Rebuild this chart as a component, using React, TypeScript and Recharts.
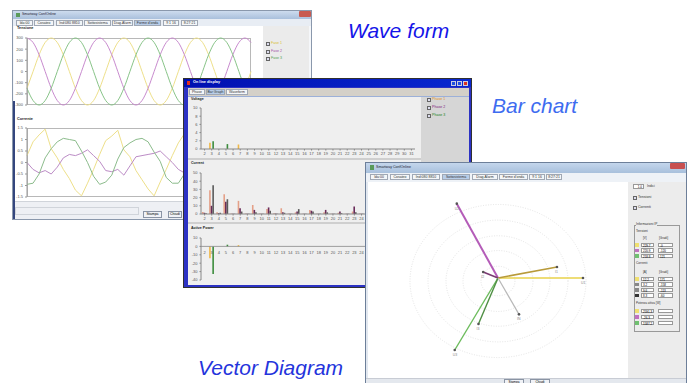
import React from "react";
import {
  LineChart,
  Line,
  XAxis,
  YAxis,
  BarChart,
  Bar,
  ScatterChart,
  Scatter,
  ReferenceDot,
  ReferenceLine,
} from "recharts";

const FONT = "'Liberation Sans', Arial, sans-serif";

// ---- waveform window data (sample index, 12 samples per period)
const samples = [
  0, 1, 2, 3, 4, 5, 6, 7, 8, 9, 10, 11, 12, 13, 14, 15, 16, 17, 18, 19, 20, 21, 22, 23, 24, 25, 26, 27, 28, 29,
  30, 31, 32, 33, 34, 35, 36, 37,
];
const voltFase1 = [
  -150, 0, 150, 260, 300, 260, 150, 0, -150, -260, -300, -260, -150, 0, 150, 260, 300, 260, 150, 0, -150, -260,
  -300, -260, -150, 0, 150, 260, 300, 260, 150, 0, -150, -260, -300, -260, -150, 0,
];
const voltFase2 = [
  300, 260, 150, 0, -150, -260, -300, -260, -150, 0, 150, 260, 300, 260, 150, 0, -150, -260, -300, -260, -150, 0,
  150, 260, 300, 260, 150, 0, -150, -260, -300, -260, -150, 0, 150, 260, 300, 260,
];
const voltFase3 = [
  -150, -260, -300, -260, -150, 0, 150, 260, 300, 260, 150, 0, -150, -260, -300, -260, -150, 0, 150, 260, 300, 260,
  150, 0, -150, -260, -300, -260, -150, 0, 150, 260, 300, 260, 150, 0, -150, -260,
];
const voltTicks = [300, 200, 100, 0, -100, -200, -300];

const currFase1 = [
  0.3, 0.9, 1.2, 1.45, 0.6, 0.2, -0.3, -0.7, -1.2, -1.45, -0.9, -0.3, 0.35, 0.95, 1.15, 1.4, 0.55, 0.25, -0.35,
  -0.75, -1.15, -1.45, -0.85, -0.3, 0.3, 0.85, 1.25, 1.45, 0.65, 0.15, -0.3, -0.7, -1.25, -1.4, -0.9, -0.25, 0.3,
  0.9,
];
const currFase2 = [
  0.0, -0.3, -0.45, -0.35, -0.5, -0.2, 0.2, 0.35, 0.3, 0.4, 0.55, 0.3, 0.05, -0.35, -0.4, -0.3, -0.55, -0.15, 0.25,
  0.3, 0.35, 0.4, 0.5, 0.25, 0.0, -0.3, -0.45, -0.4, -0.5, -0.2, 0.2, 0.35, 0.3, 0.45, 0.55, 0.3, 0.0, -0.3,
];
const currFase3 = [
  -0.95, -0.9, -0.5, 0.2, 0.6, 0.9, 1.05, 1.0, 0.95, 0.5, 0.0, -0.6, -0.95, -0.85, -0.55, 0.15, 0.65, 0.85, 1.0,
  1.05, 0.9, 0.45, 0.05, -0.65, -0.9, -0.9, -0.5, 0.2, 0.6, 0.95, 1.05, 0.95, 0.9, 0.5, 0.0, -0.6, -0.95, -0.9,
];
const currTicks = [1.5, 1, 0.5, 0, -0.5, -1, -1.5];

// ---- bar graph window data (harmonic order 2..31)
const harmonics = [
  "2", "3", "4", "5", "6", "7", "8", "9", "10", "11", "12", "13", "14", "15", "16", "17", "18", "19", "20", "21",
  "22", "23", "24", "25", "26", "27", "28", "29", "30", "31",
];
const harmVoltP1 = [0, 1.5, 0, 0, 0, 1.1, 0, 0, 0, 0, 0, 0, 0, 0, 0, 0, 0, 0, 0, 0, 0, 0, 0, 0, 0, 0, 0, 0, 0, 0];
const harmVoltP2 = [0, 0, 0, 0, 0, 0, 0, 0, 0, 0, 0, 0, 0, 0, 0, 0, 0, 0, 0, 0, 0, 0, 0, 0, 0, 0, 0, 0, 0, 0];
const harmVoltP3 = [0, 1.9, 0, 1.2, 0, 0, 0, 0, 0, 0, 0, 0, 0, 0, 0, 0, 0, 0, 0, 0, 0, 0, 0, 0, 0, 0, 0, 0, 0, 0];
const voltBarTicks = [0, 2, 4, 6, 8, 10];

const harmCurrP1 = [
  2.5, 29, 2, 24, 0.5, 16, 0.5, 11, 0.5, 6, 1, 7, 0.5, 2, 0.3, 5, 0.3, 2, 0.3, 1.5, 0.3, 3, 0.5, 2, 0.3, 1.5, 0.3,
  1.2, 0.3, 1,
];
const harmCurrP2 = [
  1.5, 10, 1, 15, 0.3, 7, 0.3, 5, 0.3, 8, 0.5, 2, 0.3, 3, 0.3, 4, 0.3, 5, 0.3, 3, 0.3, 9, 0.3, 1, 0.3, 1, 0.3, 1,
  0.3, 1,
];
const harmCurrP3 = [
  1, 35, 1.5, 18, 0.3, 3, 0.3, 2, 0.3, 4, 0.3, 1.5, 0.3, 6, 0.3, 3, 0.3, 2, 0.3, 1, 0.3, 2, 0.3, 1, 0.3, 1, 0.3, 1,
  0.3, 1,
];
const currBarTicks = [0, 10, 20, 30, 40, 50];

const harmPowP1 = [0, -14, 0, 0, 0, 1.5, 0, 0, 0, 0, 0, 0, 0, 0, 0, 0, 0, 0, 0, 0, 0, 0, 0, 0, 0, 0, 0, 0, 0, 0];
const harmPowP2 = [0, 0, 0, 0, 0, 0, 0, 0, 0, 0, 0, 0, 0, 0, 0, 0, 0, 0, 0, 0, 0, 0, 0, 0, 0, 0, 0, 0, 0, 0];
const harmPowP3 = [0, -33, 0, 2, 0, 0, 0, 0, 0, 0, 0, 0, 0, 0, 0, 0, 0, 0, 0, 0, 0, 0, 0, 0, 0, 0, 0, 0, 0, 0];
const powTicks = [10, 0, -10, -20, -30, -40];

// ---- vector diagram data (magnitude in diagram units, angle in degrees)
const vectorNames = ["U1", "U2", "U3", "I1", "I2", "I3", "IN"];
const vectorMag = [85, 85, 84, 60, 16, 50, 42];
const vectorAng = [0, 119, -121, 10.5, 158, -113, -60];
const ringSizes = [88, 70, 52, 35, 17];

const vectorColors = ["#e9d24a", "#b45cb8", "#6cbc5c", "#b89a3a", "#7a3a72", "#4f8f44", "#b8b8b8"];
const vectorWidths = [1.4, 2, 1.4, 1.6, 1.6, 1.4, 1.2];

const tickStyle = { fontSize: 4, fill: "#555", fontFamily: FONT };

const voltRows = samples.map((s, i) => ({ s, f1: voltFase1[i], f2: voltFase2[i], f3: voltFase3[i] }));
const currRows = samples.map((s, i) => ({ s, f1: currFase1[i], f2: currFase2[i], f3: currFase3[i] }));
const hvRows = harmonics.map((h, i) => ({ h, p1: harmVoltP1[i], p2: harmVoltP2[i], p3: harmVoltP3[i] }));
const hcRows = harmonics.map((h, i) => ({ h, p1: harmCurrP1[i], p2: harmCurrP2[i], p3: harmCurrP3[i] }));
const hpRows = harmonics.map((h, i) => ({ h, p1: harmPowP1[i], p2: harmPowP2[i], p3: harmPowP3[i] }));

const Txt = ({ x, y, children, color = "#333", size = 4, bold = false, style = {} }: any) => (
  <div
    style={{
      position: "absolute",
      left: x,
      top: y,
      fontSize: size,
      lineHeight: 1,
      color,
      fontWeight: bold ? "bold" : "normal",
      whiteSpace: "nowrap",
      ...style,
    }}
  >
    {children}
  </div>
);

const Box = ({ x, y, w, h, style = {}, children }: any) => (
  <div style={{ position: "absolute", left: x, top: y, width: w, height: h, boxSizing: "border-box", ...style }}>
    {children}
  </div>
);

const Tab = ({ x, y, w, label, active = false, h = 6 }: any) => (
  <Box
    x={x}
    y={y}
    w={w}
    h={h}
    style={{
      border: "1px solid #a0a8b4",
      background: active ? "#b8cde8" : "#f4f6f8",
      fontSize: 3.5,
      lineHeight: `${h - 2}px`,
      textAlign: "center",
      color: "#333",
      whiteSpace: "nowrap",
      overflow: "hidden",
    }}
  >
    {label}
  </Box>
);

const Check = ({ x, y, label, color }: any) => (
  <>
    <Box x={x} y={y} w={4} h={4} style={{ border: "1px solid #666", background: "#dde" }} />
    <Txt x={x + 5} y={y} color={color} size={3.6}>
      {label}
    </Txt>
  </>
);

function WaveWindow() {
  const lineProps = { dot: false, isAnimationActive: false, type: "monotone" as const, strokeWidth: 1 };
  return (
    <Box x={12} y={10} w={300} h={210} style={{ background: "#f5f7fa", border: "1px solid #8a98ac", overflow: "hidden" }}>
      <Box x={0} y={0} w={300} h={8} style={{ background: "linear-gradient(#cddcee, #a9c0dc)" }} />
      <Box x={3} y={1.5} w={4} h={4} style={{ background: "#5a9a5a" }} />
      <Txt x={9} y={2} size={3.5} color="#223">
        Smartway ConfOnline
      </Txt>
      <Box x={286} y={0} w={12} h={6} style={{ background: "#c85a50", borderRadius: 1 }} />
      <Box x={0} y={8} w={300} h={7} style={{ background: "#e8edf4" }} />
      <Tab x={3} y={9} w={17} label="Ida:00" />
      <Tab x={21} y={9} w={20} label="Cosateo" />
      <Tab x={43} y={9} w={27} label="Ind:080 8810" />
      <Tab x={71} y={9} w={27} label="Sottosistema" />
      <Tab x={99} y={9} w={21} label="Diag.Alarm" />
      <Tab x={121} y={9} w={27} label="Forme d'onda" active />
      <Tab x={150} y={9} w={16} label="9 1 16" />
      <Tab x={168} y={9} w={17} label="8:27:21" />
      <Box x={1} y={15} w={249} h={175} style={{ background: "#ffffff" }} />
      <Box x={250} y={15} w={46} h={175} style={{ background: "#ebebeb" }} />
      <Check x={253} y={31} label="Fase 1" color="#d8c030" />
      <Check x={253} y={39} label="Fase 2" color="#a050a8" />
      <Check x={253} y={46} label="Fase 3" color="#50a050" />

      <Txt x={4} y={16} size={3.8} bold color="#222">
        Tensione
      </Txt>
      <Box x={14} y={27} w={224} h={67} style={{ border: "1px solid #b8b8b8" }} />
      <div style={{ position: "absolute", left: 0, top: 24 }}>
        <LineChart width={240} height={73} data={voltRows} margin={{ top: 3, right: 2, bottom: 3, left: 0 }}>
          <XAxis dataKey="s" type="number" domain={[0, 37]} hide />
          <YAxis
            width={14}
            domain={[-300, 300]}
            ticks={voltTicks}
            interval={0}
            tick={tickStyle}
            tickSize={2}
            axisLine={{ stroke: "#999" }}
            tickLine={{ stroke: "#999" }}
          />
          <Line dataKey="f1" stroke="#eee08a" {...lineProps} />
          <Line dataKey="f2" stroke="#c88ace" {...lineProps} />
          <Line dataKey="f3" stroke="#88c488" {...lineProps} />
        </LineChart>
      </div>

      <Txt x={4} y={107} size={3.8} bold color="#222">
        Corrente
      </Txt>
      <Box x={14} y={117} w={224} h={69} style={{ border: "1px solid #b8b8b8" }} />
      <div style={{ position: "absolute", left: 0, top: 114 }}>
        <LineChart width={240} height={75} data={currRows} margin={{ top: 3, right: 2, bottom: 3, left: 0 }}>
          <XAxis dataKey="s" type="number" domain={[0, 37]} hide />
          <YAxis
            width={14}
            domain={[-1.5, 1.5]}
            ticks={currTicks}
            interval={0}
            tick={tickStyle}
            tickSize={2}
            axisLine={{ stroke: "#999" }}
            tickLine={{ stroke: "#999" }}
          />
          <Line dataKey="f1" stroke="#eee08a" {...lineProps} type="linear" />
          <Line dataKey="f2" stroke="#bc8cc6" {...lineProps} type="linear" />
          <Line dataKey="f3" stroke="#8cbc8c" {...lineProps} type="linear" />
        </LineChart>
      </div>

      <Box x={0} y={190} w={300} h={20} style={{ background: "#eef0f4", borderTop: "1px solid #d0d4da" }} />
      <Box x={2} y={196} w={124} h={8} style={{ border: "1px solid #d0d4da" }} />
      <Box x={130} y={200} w={19} h={7} style={{ border: "1px solid #8a94a4", background: "#f0f2f6", fontSize: 3.5, textAlign: "center", lineHeight: "5px" }}>
        Stampa
      </Box>
      <Box x={155} y={200} w={14} h={7} style={{ border: "1px solid #8a94a4", background: "#f0f2f6", fontSize: 3.5, textAlign: "center", lineHeight: "5px" }}>
        Chiudi
      </Box>
      <Box x={0} y={90} w={2} h={120} style={{ background: "#34467e" }} />
    </Box>
  );
}

function BarWindow() {
  const barProps = { isAnimationActive: false, barSize: 1.6 };
  const axisCommon = { tick: tickStyle, tickSize: 1.5, axisLine: { stroke: "#888" }, tickLine: { stroke: "#888" } };
  return (
    <Box x={183} y={78} w={289} h={210} style={{ background: "#2c32c4", border: "1px solid #303030", overflow: "hidden" }}>
      <Box x={0} y={0} w={289} h={8} style={{ background: "linear-gradient(90deg, #0010b0, #0a28d0)" }} />
      <Box x={3} y={2} w={3} h={4} style={{ background: "#e03020" }} />
      <Txt x={9} y={2} size={3.8} color="#fff" bold>
        On line display
      </Txt>
      <Box x={267} y={1.5} w={5} h={5} style={{ background: "#2050e0", border: "0.5px solid #ccd" }} />
      <Box x={273} y={1.5} w={5} h={5} style={{ background: "#2050e0", border: "0.5px solid #ccd" }} />
      <Box x={279} y={1.5} w={5} h={5} style={{ background: "#d83020", border: "0.5px solid #ccd" }} />
      <Box x={4} y={9} w={281} h={9} style={{ background: "#d4d0c8" }} />
      <Tab x={5} y={10} w={16} label="Phase" />
      <Tab x={22} y={10} w={19} label="Bar Graph" active />
      <Tab x={42} y={10} w={22} label="Waveform" />
      <Box x={4} y={17} w={281} h={1} style={{ background: "#9cb0d8" }} />
      <Box x={4} y={18} w={233} h={188} style={{ background: "#efefef" }} />
      <Box x={237} y={18} w={48} h={188} style={{ background: "#d6d6d6" }} />
      <Check x={243} y={19} label="Phase 1" color="#e09020" />
      <Check x={243} y={27} label="Phase 2" color="#802080" />
      <Check x={243} y={35} label="Phase 3" color="#208020" />

      <Box x={4} y={79} w={233} h={2} style={{ background: "#cfcfcf" }} />
      <Box x={4} y={143} w={233} h={2} style={{ background: "#cfcfcf" }} />

      <Txt x={7} y={19} size={3.6} bold color="#222">
        Voltage
      </Txt>
      <div style={{ position: "absolute", left: 5, top: 26 }}>
        <BarChart width={228} height={53} data={hvRows} margin={{ top: 3, right: 2, bottom: 0, left: 0 }} barGap={0}>
          <XAxis dataKey="h" interval={0} height={9} {...axisCommon} />
          <YAxis width={12} domain={[0, 10]} ticks={voltBarTicks} interval={0} {...axisCommon} />
          <Bar dataKey="p1" fill="#f0b848" {...barProps} />
          <Bar dataKey="p2" fill="#7a2a7a" {...barProps} />
          <Bar dataKey="p3" fill="#3c8c3c" {...barProps} />
        </BarChart>
      </div>

      <Txt x={7} y={83} size={3.6} bold color="#222">
        Current
      </Txt>
      <div style={{ position: "absolute", left: 5, top: 91 }}>
        <BarChart width={228} height={53} data={hcRows} margin={{ top: 3, right: 2, bottom: 0, left: 0 }} barGap={0}>
          <XAxis dataKey="h" interval={0} height={9} {...axisCommon} />
          <YAxis width={12} domain={[0, 50]} ticks={currBarTicks} interval={0} {...axisCommon} />
          <Bar dataKey="p1" fill="#e4a088" {...barProps} />
          <Bar dataKey="p2" fill="#6a2c5a" {...barProps} />
          <Bar dataKey="p3" fill="#5a5a5a" {...barProps} />
        </BarChart>
      </div>

      <Txt x={7} y={148} size={3.6} bold color="#222">
        Active Power
      </Txt>
      <div style={{ position: "absolute", left: 5, top: 156 }}>
        <BarChart width={228} height={48} data={hpRows} margin={{ top: 3, right: 2, bottom: 2, left: 0 }} barGap={0}>
          <XAxis dataKey="h" interval={0} height={1} axisLine={false} tickLine={false} tickSize={0} tick={{ ...tickStyle, dy: -31 }} />
          <YAxis width={12} domain={[-40, 10]} ticks={powTicks} interval={0} {...axisCommon} />
          <ReferenceLine y={0} stroke="#888" strokeWidth={0.8} />
          <Bar dataKey="p1" fill="#f0b848" {...barProps} />
          <Bar dataKey="p2" fill="#7a2a7a" {...barProps} />
          <Bar dataKey="p3" fill="#3c8c3c" {...barProps} />
        </BarChart>
      </div>
    </Box>
  );
}

const TipShape = (props: any) => {
  const { cx, cy, payload } = props;
  if (!payload || !payload.tip) return <g />;
  return (
    <g>
      <circle cx={cx} cy={cy} r={1.3} fill="#555" />
      <text x={cx - 2} y={cy + 6} fontSize={3.5} fill="#888" fontFamily={FONT}>
        {payload.name}
      </text>
    </g>
  );
};

function VectorWindow() {
  const vectors = vectorNames.map((name, i) => {
    const a = (vectorAng[i] * Math.PI) / 180;
    return [
      { x: 0, y: 0, tip: false, name },
      { x: vectorMag[i] * Math.cos(a), y: vectorMag[i] * Math.sin(a), tip: true, name },
    ];
  });
  const row = (y: number, sw: string, a: string, b: string) => (
    <>
      <Box x={269} y={y} w={4} h={3.5} style={{ background: sw }} />
      <Box x={275} y={y - 0.5} w={13} h={4.5} style={{ background: "#fff", border: "0.5px solid #999", fontSize: 3, paddingLeft: 1 }}>
        {a}
      </Box>
      <Box x={292} y={y - 0.5} w={15} h={4.5} style={{ background: "#fff", border: "0.5px solid #999", fontSize: 3, paddingLeft: 1 }}>
        {b}
      </Box>
    </>
  );
  return (
    <Box x={365} y={162} w={322} h={222} style={{ background: "#e2e8f0", border: "1px solid #6d7f99", overflow: "hidden" }}>
      <Box x={0} y={0} w={322} h={10} style={{ background: "linear-gradient(#c4d6ec, #a8c0dc)" }} />
      <Box x={4} y={2} w={4} h={5} style={{ background: "#5a9a5a" }} />
      <Txt x={10} y={3} size={3.6} color="#223">
        Smartway ConfOnline
      </Txt>
      <Box x={304} y={0} w={15} h={6} style={{ background: "#c85050", borderRadius: 1 }} />
      <Box x={0} y={10} w={322} h={9} style={{ background: "#eef2f7" }} />
      <Tab x={4} y={11} w={18} label="Ida:00" />
      <Tab x={24} y={11} w={20} label="Cosateo" />
      <Tab x={46} y={11} w={28} label="Ind:080 8810" />
      <Tab x={76} y={11} w={28} label="Sottosistema" active />
      <Tab x={106} y={11} w={26} label="Diag.Alarm" />
      <Tab x={133} y={11} w={29} label="Forme d'onda" />
      <Tab x={163} y={11} w={16} label="9 1 16" />
      <Tab x={180} y={11} w={16} label="8:27:21" />
      <Box x={2} y={19} w={260} h={196} style={{ background: "#ffffff" }} />
      <Box x={262} y={19} w={58} h={196} style={{ background: "#ececec" }} />

      <div style={{ position: "absolute", left: 32, top: 15 }}>
        <ScatterChart width={200} height={200} margin={{ top: 0, right: 0, bottom: 0, left: 0 }}>
          <XAxis dataKey="x" type="number" domain={[-100, 100]} hide />
          <YAxis dataKey="y" type="number" domain={[-100, 100]} hide />
          {ringSizes.map((r) => (
            <ReferenceDot
              key={r}
              x={0}
              y={0}
              r={r}
              shape={(p: any) => (
                <ellipse cx={p.cx} cy={p.cy + 3} rx={r} ry={r * 0.87} fill="none" stroke="#d8d8d8" strokeWidth={0.7} strokeDasharray="1 1.5" />
              )}
            />
          ))}
          {vectors.map((pts, i) => (
            <Scatter
              key={vectorNames[i]}
              data={pts}
              line={{ stroke: vectorColors[i], strokeWidth: vectorWidths[i] }}
              shape={TipShape}
              isAnimationActive={false}
            />
          ))}
        </ScatterChart>
      </div>

      <Box x={267} y={21} w={11} h={5} style={{ background: "#fff", border: "0.5px solid #999", fontSize: 3, textAlign: "right", paddingRight: 1 }}>
        1.0
      </Box>
      <Txt x={281} y={22} size={3.3}>
        Indici
      </Txt>
      <Check x={267} y={33} label="Tensioni" color="#333" />
      <Check x={267} y={43} label="Correnti" color="#333" />
      <Box x={268} y={62} w={46} h={107} style={{ border: "0.5px solid #999" }} />
      <Txt x={270} y={60} size={3.2} style={{ background: "#ececec" }}>
        Informazioni IP
      </Txt>
      <Txt x={270} y={67} size={3.2}>
        Tensioni
      </Txt>
      <Txt x={277} y={74} size={3}>
        [V]
      </Txt>
      <Txt x={293} y={74} size={3}>
        [Gradi]
      </Txt>
      {row(80, "#f0e070", "229.7", "-0")}
      {row(85.5, "#c070c0", "220.9", "-120")}
      {row(91, "#70c070", "218.8", "121")}
      <Txt x={270} y={99} size={3.2}>
        Correnti
      </Txt>
      <Txt x={277} y={108} size={3}>
        [A]
      </Txt>
      <Txt x={293} y={108} size={3}>
        [Gradi]
      </Txt>
      {row(114, "#f0e070", "12.2", "171")}
      {row(119.5, "#888", "3.2", "-158")}
      {row(125, "#888", "9.6", "-113")}
      {row(130.5, "#333", "8.3", "-60")}
      <Txt x={270} y={139} size={3}>
        Potenza attiva [W]
      </Txt>
      {row(146, "#f0e070", "2591.3", "")}
      {row(152, "#c070c0", "-26.3", "")}
      {row(158, "#70c070", "1587.2", "")}

      <Box x={0} y={215} w={322} h={7} style={{ background: "#e4e8ee", borderTop: "1px solid #c8ccd4" }} />
      <Box x={138} y={216} w={20} h={6} style={{ border: "1px solid #8a94a4", background: "#f0f2f6", fontSize: 3.2, textAlign: "center", lineHeight: "4px" }}>
        Stampa
      </Box>
      <Box x={164} y={216} w={20} h={6} style={{ border: "1px solid #8a94a4", background: "#f0f2f6", fontSize: 3.2, textAlign: "center", lineHeight: "4px" }}>
        Chiudi
      </Box>
    </Box>
  );
}

export default function App() {
  return (
    <div
      style={{
        position: "absolute",
        left: 0,
        top: 0,
        width: 692,
        height: 383,
        overflow: "hidden",
        background: "#ffffff",
        fontFamily: FONT,
      }}
    >
      <WaveWindow />
      <BarWindow />
      <VectorWindow />
      <Txt x={348} y={20} size={21} color="#1414e8" style={{ fontStyle: "italic" }}>
        Wave form
      </Txt>
      <Txt x={492} y={95} size={21} color="#3e6cf0" style={{ fontStyle: "italic" }}>
        Bar chart
      </Txt>
      <Txt x={198} y={357} size={21} color="#2434dc" style={{ fontStyle: "italic" }}>
        Vector Diagram
      </Txt>
    </div>
  );
}
